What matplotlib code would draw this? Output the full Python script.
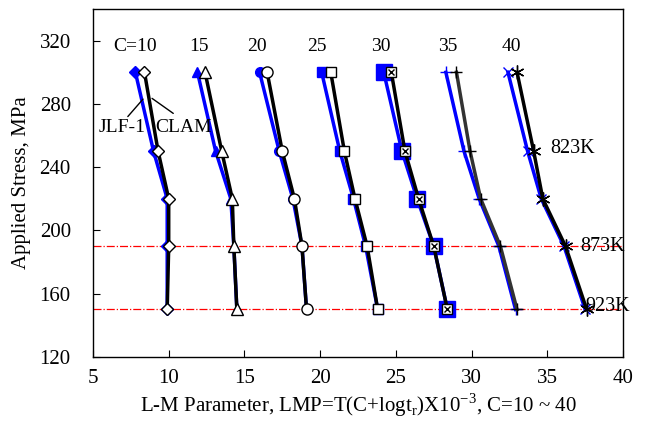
import matplotlib.pyplot as plt

plt.rcParams['font.family'] = 'Liberation Serif'
plt.rcParams['mathtext.fontset'] = 'custom'
plt.rcParams['mathtext.rm'] = 'Liberation Serif'

stress = [300, 250, 220, 190, 150]
c_values = [10, 15, 20, 25, 30, 35, 40]

# LMP values, one list per constant C
jlf1 = {
    10: [7.8, 9.0, 9.9, 9.9, 9.9],
    15: [11.9, 13.1, 14.1, 14.3, 14.5],
    20: [16.0, 17.3, 18.2, 18.8, 19.1],
    25: [20.1, 21.3, 22.2, 23.0, 23.8],
    30: [24.2, 25.4, 26.4, 27.5, 28.4],
    35: [28.3, 29.5, 30.5, 31.8, 32.9],
    40: [32.4, 33.7, 34.6, 36.1, 37.5],
}
clam = {
    10: [8.4, 9.3, 10.0, 10.0, 9.9],
    15: [12.4, 13.5, 14.2, 14.3, 14.5],
    20: [16.5, 17.5, 18.3, 18.8, 19.1],
    25: [20.7, 21.6, 22.3, 23.1, 23.8],
    30: [24.7, 25.6, 26.5, 27.5, 28.4],
    35: [29.0, 29.9, 30.6, 31.9, 33.0],
    40: [33.0, 34.1, 34.7, 36.2, 37.6],
}
temps = ['823K', '873K', '923K']
temp_stress = [252, 190, 152]
ref_lines = [190, 150]

fig = plt.figure(figsize=(6.48, 4.30), dpi=100)
ax = fig.add_axes([0.1435, 0.170, 0.818, 0.809])

jlf_style = {
    10: dict(marker='D', ms=6, mfc='blue', mec='blue'),
    15: dict(marker='^', ms=7, mfc='blue', mec='blue'),
    20: dict(marker='o', ms=7, mfc='blue', mec='blue'),
    25: dict(marker='s', ms=7, mfc='blue', mec='blue'),
    30: dict(marker='s', ms=11, mfc='blue', mec='blue'),
    35: dict(marker='+', ms=8, mfc='blue', mec='blue', mew=1),
    40: dict(marker='x', ms=7, mfc='blue', mec='blue', mew=1),
}
clam_style = {
    10: dict(marker='D', ms=6, mfc='white', mec='black'),
    15: dict(marker='^', ms=8, mfc='white', mec='black'),
    20: dict(marker='o', ms=8, mfc='white', mec='black'),
    25: dict(marker='s', ms=7, mfc='white', mec='black'),
    30: dict(marker='s', ms=7, mfc='white', mec='black'),
    35: dict(marker='+', ms=9, mfc='black', mec='black', mew=1),
    40: dict(marker=(6, 2, 0), ms=10, mfc='black', mec='black', mew=1),
}

for y in ref_lines:
    ax.axhline(y, color='red', lw=0.9, ls='-.', zorder=1)

for c in c_values:
    ax.plot(jlf1[c], stress, color='blue', lw=2.5, zorder=2, **jlf_style[c])
    ax.plot(clam[c], stress, color='black' if c != 35 else '#333333', lw=2.5,
            zorder=3, **clam_style[c])
    if c == 30:
        ax.plot(clam[c], stress, ls='none', marker='x', ms=5, mec='black',
                mew=1, zorder=4)

# C labels above the curves
label_x = [7.8, 12.0, 15.8, 19.8, 24.0, 28.4, 32.6]
for c, lx in zip(c_values, label_x):
    txt = 'C=10' if c == 10 else str(c)
    ax.text(lx, 316, txt, ha='center', va='center', fontsize=14)

for t, ty, tx in zip(temps, temp_stress, [35.2, 37.2, 37.5]):
    ax.text(tx, ty, t, ha='left', va='center', fontsize=14.5)

# material labels with pointer lines
ax.text(6.9, 265, 'JLF-1', ha='center', va='center', fontsize=14)
ax.text(11.0, 265, 'CLAM', ha='center', va='center', fontsize=14)
ax.annotate('', xy=(8.3, 283), xytext=(7.3, 272),
            arrowprops=dict(arrowstyle='-', color='black', lw=1,
                            shrinkA=0, shrinkB=0))
ax.annotate('', xy=(8.9, 283.5), xytext=(10.3, 274),
            arrowprops=dict(arrowstyle='-', color='black', lw=1,
                            shrinkA=0, shrinkB=0))

ax.set_xlim(5, 40)
ax.set_ylim(120, 340)
ax.set_xticks(range(5, 41, 5))
ax.set_yticks(range(120, 321, 40))
ax.tick_params(direction='in', length=5, labelsize=15)
ax.tick_params(axis='x', pad=9)
ax.tick_params(axis='y', pad=16)
for s in ax.spines.values():
    s.set_linewidth(1)

ax.set_xlabel(r'L-M Parameter, LMP=T(C+logt$_\mathregular{r}$)X10$^\mathregular{-3}$, C=10 ~ 40',
              fontsize=15, labelpad=2)
ax.set_ylabel('Applied Stress, MPa', fontsize=15, labelpad=6)

fig.savefig('out.png', dpi=100)
